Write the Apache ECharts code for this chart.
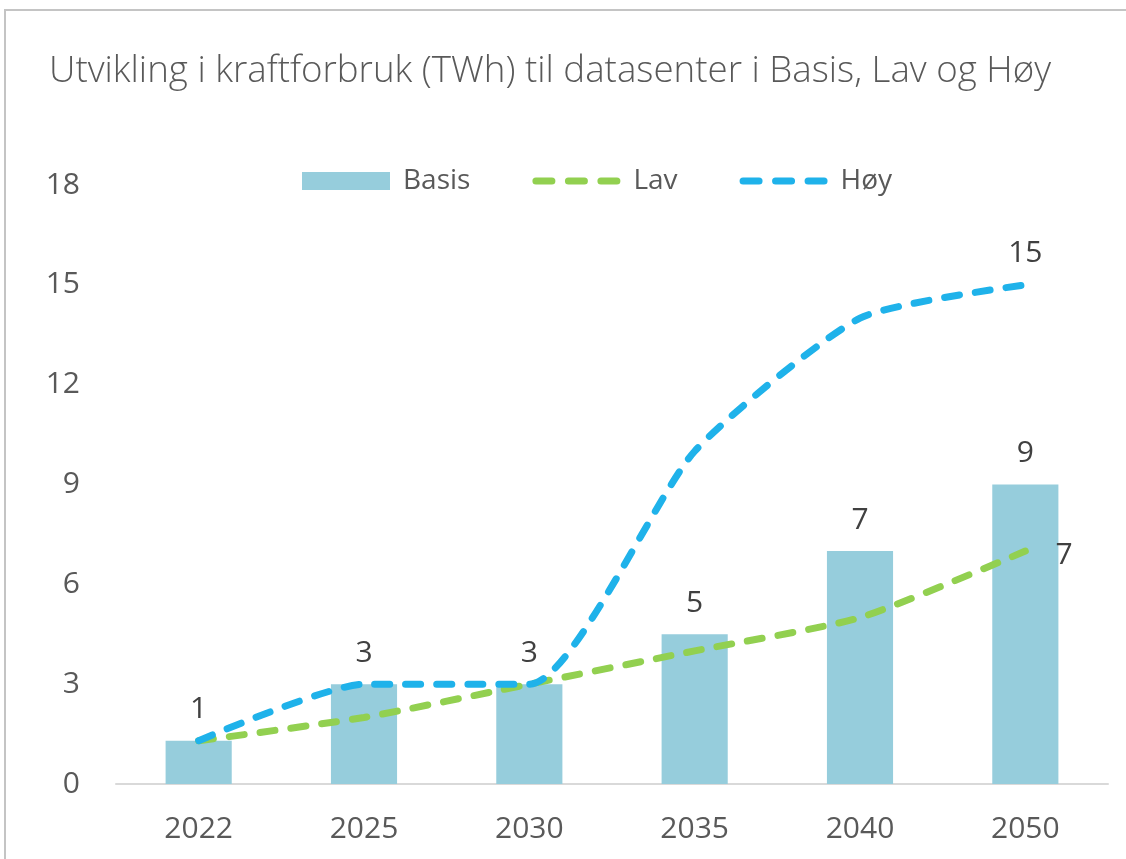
<!DOCTYPE html>
<html>
<head>
<meta charset="utf-8">
<script src="https://cdn.jsdelivr.net/npm/echarts@6/dist/echarts.min.js"></script>
<style>
  html, body { margin: 0; padding: 0; background: #fff; }
  #chart { width: 1126px; height: 859px; }
</style>
</head>
<body>
<div id="chart"></div>
<script>
// data
const years = ['2022', '2025', '2030', '2035', '2040', '2050']
const basis = [1.3, 3.0, 3.0, 4.5, 7.0, 9.0]
const lav = [1.3, 2.0, 3.0, 4.0, 5.0, 7.0]
const hoy = [1.3, 3.0, 3.0, 10.0, 14.0, 15.0]
const yTicks = [0, 3, 6, 9, 12, 15, 18]

const textColor = '#595959'
const labelColor = '#404040'
const font = "'Open Sans', 'Noto Sans', sans-serif"

// legend icon for the dashed lines: three rounded dashes (plus two dots that fix the box height)
function pill(x) {
  return 'M' + (x + 3.5) + ',5.5 L' + (x + 19.5) + ',5.5 A3.5,3.5 0 0 1 ' + (x + 19.5) + ',12.5 L' +
    (x + 3.5) + ',12.5 A3.5,3.5 0 0 1 ' + (x + 3.5) + ',5.5 Z '
}
const dashIcon = 'path://M0,0 L0.01,0 L0,0.01 Z M0,18 L0.01,18 L0,17.99 Z ' + pill(0) + pill(32.5) + pill(65)

// only the last point of the lines carries a label (needs a tiny symbol to hang it on)
function lastLabel(arr, pos) {
  return arr.map((v, i) => {
    if (i !== arr.length - 1) return v
    return { value: v, symbol: 'circle', symbolSize: 0.1, label: { show: true, position: pos } }
  })
}

const chart = echarts.init(document.getElementById('chart'))
chart.setOption({
  animation: false,
  textStyle: { fontFamily: font, color: textColor },
  graphic: [
    {
      type: 'rect',
      shape: { x: 5, y: 10, width: 1200, height: 900 },
      style: { fill: 'none', stroke: '#c4c4c4', lineWidth: 2 },
      silent: true
    }
  ],
  title: {
    text: 'Utvikling i kraftforbruk (TWh) til datasenter i Basis, Lav og Høy',
    left: 44,
    top: 48,
    textStyle: { fontFamily: font, fontWeight: 300, fontSize: 36.7, color: textColor }
  },
  legend: {
    top: 162,
    left: 297,
    itemGap: 62,
    itemWidth: 88,
    itemHeight: 18,
    textStyle: { fontFamily: font, fontSize: 28, color: textColor, padding: [0, 0, 0, 8] },
    data: [
      { name: 'Basis', icon: 'rect' },
      { name: 'Lav', icon: dashIcon },
      { name: 'Høy', icon: dashIcon }
    ]
  },
  grid: { left: 116, right: 18, top: 185, bottom: 75 },
  xAxis: {
    type: 'category',
    data: years,
    axisTick: { show: false },
    axisLine: { lineStyle: { color: '#d9d9d9', width: 2 } },
    axisLabel: { fontSize: 30, color: textColor, margin: 30 }
  },
  yAxis: {
    type: 'value',
    min: yTicks[0],
    max: yTicks[yTicks.length - 1],
    interval: 3,
    splitLine: { show: false },
    axisLine: { show: false },
    axisLabel: { fontSize: 30, color: textColor, margin: 36 }
  },
  series: [
    {
      name: 'Basis',
      type: 'bar',
      data: basis,
      barWidth: '40%',
      itemStyle: { color: '#96cddc' },
      label: {
        show: true,
        position: 'top',
        distance: 16,
        fontSize: 30,
        color: labelColor,
        formatter: p => Math.round(p.value)
      }
    },
    {
      name: 'Lav',
      type: 'line',
      data: lastLabel(lav, 'right'),
      smooth: 0.2,
      symbol: 'none',
      itemStyle: { color: '#92d050' },
      lineStyle: { color: '#92d050', width: 7, type: [15, 16], cap: 'round' },
      label: { show: false, fontSize: 30, color: labelColor, distance: 30, offset: [0, 4], formatter: p => Math.round(p.value) }
    },
    {
      name: 'Høy',
      type: 'line',
      data: lastLabel(hoy, 'top'),
      smooth: 0.2,
      symbol: 'none',
      itemStyle: { color: '#1fb2ea' },
      lineStyle: { color: '#1fb2ea', width: 7, type: [15, 16], cap: 'round' },
      label: { show: false, fontSize: 30, color: labelColor, distance: 16, formatter: p => Math.round(p.value) }
    }
  ]
})
</script>
</body>
</html>
